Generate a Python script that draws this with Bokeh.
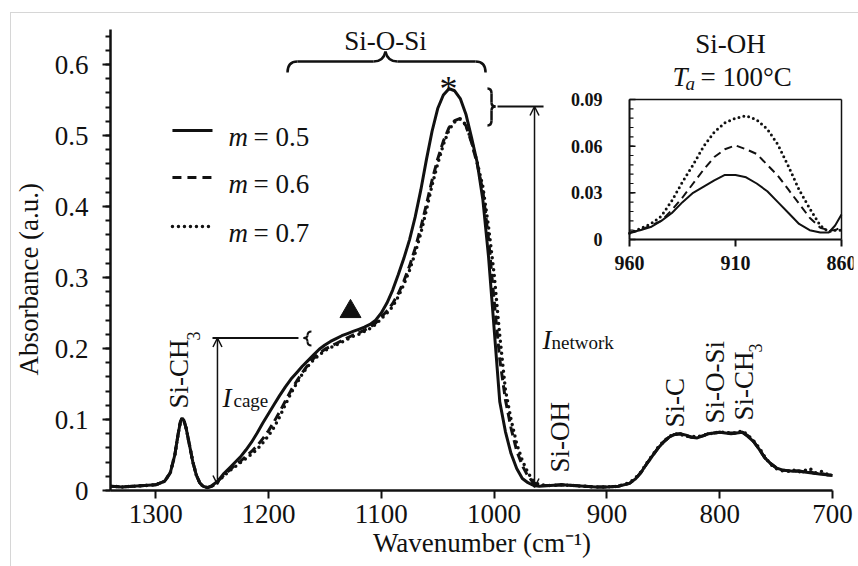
import math
from bokeh.plotting import figure
from bokeh.models import Range1d, FixedTicker, NumeralTickFormatter, Arrow, OpenHead
from bokeh.embed import file_html
from bokeh.resources import INLINE
from bokeh.core.properties import value

# ---------------- data ----------------
wavenumber = [1340, 1330, 1320, 1310, 1300, 1292, 1287, 1283, 1280, 1278,
              1276.5, 1275, 1273, 1270, 1267, 1264, 1261, 1258, 1254,
              1250, 1245, 1240, 1235, 1230, 1225, 1220, 1215, 1210, 1205,
              1200, 1195, 1190, 1185, 1180, 1175, 1170, 1165, 1160, 1155,
              1150, 1145, 1140, 1135, 1130, 1125, 1120, 1115, 1110, 1105,
              1100, 1095, 1090, 1085, 1080, 1075, 1070, 1065, 1060, 1055,
              1050, 1045, 1040, 1035, 1030, 1025, 1020, 1015, 1010, 1005,
              1000, 995, 990, 985, 980, 975, 970, 965, 960,
              950, 940, 930, 920, 910, 900, 890, 880, 875, 870,
              865, 860, 855, 850, 845, 840, 835, 830, 825, 820,
              815, 810, 805, 800, 795, 790, 785, 780, 775, 770,
              765, 760, 755, 750, 745, 740, 735, 730, 725, 720,
              715, 710, 705, 700]

abs_m05 = [0.006, 0.005, 0.006, 0.007, 0.008, 0.013, 0.025, 0.050, 0.080, 0.097,
           0.102, 0.099, 0.088, 0.064, 0.040, 0.022, 0.011, 0.006, 0.004,
           0.007, 0.013, 0.023, 0.031, 0.039, 0.047, 0.057, 0.068, 0.081, 0.095,
           0.108, 0.121, 0.134, 0.146, 0.157, 0.166, 0.175, 0.183, 0.191, 0.199,
           0.205, 0.210, 0.214, 0.218, 0.221, 0.224, 0.227, 0.230, 0.234, 0.240,
           0.250, 0.264, 0.282, 0.304, 0.327, 0.353, 0.385, 0.423, 0.466, 0.506,
           0.538, 0.557, 0.566, 0.563, 0.552, 0.530, 0.497, 0.462, 0.410, 0.330,
           0.228, 0.125, 0.083, 0.052, 0.031, 0.017, 0.011, 0.007, 0.006,
           0.007, 0.008, 0.007, 0.006, 0.005, 0.005, 0.006, 0.010, 0.016, 0.025,
           0.037, 0.048, 0.059, 0.068, 0.075, 0.079, 0.080, 0.078, 0.075, 0.074,
           0.077, 0.080, 0.081, 0.082, 0.081, 0.080, 0.081, 0.082, 0.076, 0.069,
           0.058, 0.046, 0.038, 0.032, 0.029, 0.028, 0.027, 0.027, 0.026, 0.025,
           0.024, 0.023, 0.022, 0.021]

abs_m06 = [0.006, 0.005, 0.006, 0.007, 0.008, 0.013, 0.025, 0.050, 0.080, 0.097,
           0.102, 0.099, 0.088, 0.064, 0.040, 0.022, 0.011, 0.006, 0.004,
           0.006, 0.013, 0.021, 0.028, 0.035, 0.041, 0.048, 0.055, 0.063, 0.073,
           0.084, 0.097, 0.111, 0.126, 0.141, 0.154, 0.166, 0.177, 0.186, 0.193,
           0.199, 0.203, 0.207, 0.211, 0.215, 0.219, 0.222, 0.226, 0.230, 0.236,
           0.244, 0.253, 0.263, 0.277, 0.295, 0.316, 0.341, 0.370, 0.403, 0.437,
           0.467, 0.492, 0.511, 0.521, 0.524, 0.514, 0.490, 0.460, 0.422, 0.355,
           0.268, 0.185, 0.128, 0.088, 0.056, 0.035, 0.020, 0.011, 0.007,
           0.007, 0.008, 0.007, 0.006, 0.005, 0.005, 0.006, 0.010, 0.016, 0.025,
           0.037, 0.048, 0.059, 0.068, 0.075, 0.079, 0.080, 0.077, 0.075, 0.075,
           0.077, 0.080, 0.081, 0.082, 0.081, 0.081, 0.081, 0.082, 0.077, 0.069,
           0.058, 0.046, 0.038, 0.032, 0.029, 0.028, 0.027, 0.028, 0.026, 0.026,
           0.024, 0.024, 0.022, 0.022]

abs_m07 = [0.006, 0.005, 0.006, 0.007, 0.008, 0.013, 0.025, 0.050, 0.080, 0.097,
           0.102, 0.099, 0.088, 0.064, 0.040, 0.022, 0.011, 0.006, 0.004,
           0.006, 0.012, 0.020, 0.027, 0.033, 0.039, 0.045, 0.051, 0.058, 0.067,
           0.077, 0.089, 0.104, 0.121, 0.137, 0.151, 0.164, 0.175, 0.184, 0.191,
           0.197, 0.201, 0.205, 0.209, 0.213, 0.217, 0.220, 0.224, 0.228, 0.234,
           0.242, 0.250, 0.259, 0.273, 0.290, 0.310, 0.334, 0.362, 0.395, 0.430,
           0.460, 0.487, 0.508, 0.519, 0.523, 0.515, 0.492, 0.462, 0.428, 0.372,
           0.305, 0.218, 0.142, 0.100, 0.066, 0.042, 0.025, 0.013, 0.008,
           0.007, 0.008, 0.007, 0.006, 0.005, 0.005, 0.006, 0.011, 0.017, 0.026,
           0.038, 0.049, 0.060, 0.069, 0.076, 0.080, 0.079, 0.076, 0.077, 0.075,
           0.078, 0.079, 0.082, 0.081, 0.083, 0.080, 0.082, 0.084, 0.078, 0.070,
           0.060, 0.047, 0.037, 0.031, 0.028, 0.027, 0.029, 0.026, 0.028, 0.031,
           0.025, 0.027, 0.023, 0.025]

inset_wavenumber = [960, 955, 950, 945, 940, 935, 930, 925, 920, 915, 910,
                    905, 900, 895, 890, 885, 880, 875, 870, 866, 863, 860]
inset_m05 = [0.0045, 0.006, 0.008, 0.012, 0.017, 0.024, 0.030, 0.034, 0.038, 0.0415, 0.0415,
             0.040, 0.036, 0.031, 0.024, 0.017, 0.010, 0.006, 0.0045, 0.0045, 0.009, 0.016]
inset_m06 = [0.004, 0.006, 0.009, 0.012, 0.019, 0.027, 0.036, 0.045, 0.053, 0.058, 0.0605,
             0.058, 0.055, 0.048, 0.041, 0.032, 0.023, 0.014, 0.0075, 0.006, 0.006, 0.008]
inset_m07 = [0.004, 0.007, 0.010, 0.015, 0.025, 0.037, 0.048, 0.060, 0.069, 0.075, 0.078,
             0.0795, 0.077, 0.071, 0.061, 0.047, 0.032, 0.020, 0.009, 0.005, 0.006, 0.006]

x_ticks = [1300, 1200, 1100, 1000, 900, 800, 700]
y_ticks = [0, 0.1, 0.2, 0.3, 0.4, 0.5, 0.6]
inset_x_ticks = [960, 910, 860]
inset_y_ticks = [0, 0.03, 0.06, 0.09]
series_labels = ["= 0.5", "= 0.6", "= 0.7"]

assert len(wavenumber) == len(abs_m05) == len(abs_m06) == len(abs_m07)

# ---------------- figure ----------------
INK = "#111111"
SERIF = "'Liberation Serif', 'Times New Roman', serif"
W, H = 858, 566
ML, MR, MT, MB = 110, 5, 0, 76
PX_PER_WN = 1.1283      # main plot: pixels per cm-1
PX_PER_ABS = 710.0      # main plot: pixels per absorbance unit
fw, fh = W - ML - MR, H - MT - MB

p = figure(width=W, height=H, output_backend="svg", toolbar_location=None,
           x_range=Range1d(1340, 1340 - fw / PX_PER_WN),
           y_range=Range1d(0, fh / PX_PER_ABS),
           min_border_left=ML, min_border_right=MR,
           min_border_top=MT, min_border_bottom=MB)
p.outline_line_color = None
p.grid.visible = False
# transparent canvas over a white page that carries the thin grey picture border
p.background_fill_color = None
p.border_fill_color = None
p.styles = {"background": "linear-gradient(#d6d6d6, #d6d6d6) 10px 12px / 848px 1px no-repeat, "
                          "linear-gradient(#d6d6d6, #d6d6d6) 10px 12px / 1px 554px no-repeat, "
                          "#ffffff"}

# inset coordinate system (960..860 cm-1, 0..0.09) placed inside the frame
IN_X0_PX, IN_PX_PER_WN = 629 - ML, 2.12
IN_Y0_PX, IN_PX_PER_ABS = 239 - MT, 140 / 0.09
p.extra_x_ranges = {"ix": Range1d(960 + IN_X0_PX / IN_PX_PER_WN,
                                  960 - (fw - IN_X0_PX) / IN_PX_PER_WN)}
p.extra_y_ranges = {"iy": Range1d(-(fh - IN_Y0_PX) / IN_PX_PER_ABS,
                                  IN_Y0_PX / IN_PX_PER_ABS)}

# axes
for ax in (p.xaxis[0], p.yaxis[0]):
    ax.axis_line_color = INK
    ax.axis_line_width = 2.5
    ax.major_tick_line_color = INK
    ax.major_tick_line_width = 2
    ax.minor_tick_line_color = INK
    ax.minor_tick_line_width = 2
    ax.major_tick_in = 0
    ax.minor_tick_in = 0
    ax.major_tick_out = 8
    ax.minor_tick_out = 5
    ax.major_label_text_font = SERIF
    ax.major_label_text_font_size = "27px"
    ax.major_label_text_color = INK
    ax.axis_label_text_font = SERIF
    ax.axis_label_text_font_size = "27px"
    ax.axis_label_text_font_style = "normal"
    ax.axis_label_text_color = INK

p.xaxis.ticker = FixedTicker(ticks=x_ticks, minor_ticks=[])
p.xaxis.formatter = NumeralTickFormatter(format="0")
p.xaxis.bounds = (700, 1340)
p.xaxis.axis_label = "Wavenumber (cm\u207b\u00b9)"
p.xaxis.major_label_standoff = 6
p.xaxis.axis_label_standoff = 2

p.yaxis.ticker = FixedTicker(ticks=y_ticks, minor_ticks=[round(i * 0.02, 2) for i in range(33)])
p.yaxis.formatter = NumeralTickFormatter(format="0.[0]")
p.yaxis.bounds = (0, 0.65)
# trailing no-break spaces shift the centred title down to where the reference has it
p.yaxis.axis_label = "Absorbance (a.u.)" + "\u00a0" * 10
p.yaxis.major_label_standoff = 14
p.yaxis.axis_label_standoff = 8

# main spectra
p.line(wavenumber, abs_m07, line_color=INK, line_width=3.5, line_dash="0 6", line_cap="round")
p.line(wavenumber, abs_m06, line_color=INK, line_width=3, line_dash="9 5")
p.line(wavenumber, abs_m05, line_color=INK, line_width=3)


def txt(x, y, s, size="27px", style="normal", align="left", baseline="alphabetic",
        angle=0.0, inset=False):
    kw = dict(x_range_name="ix", y_range_name="iy") if inset else {}
    p.text(x=[x], y=[y], text=[s], text_font=value(SERIF), text_font_size=size,
           text_font_style=style, text_align=align, text_baseline=baseline,
           angle=angle, text_color=INK, **kw)


# legend
leg_y_line = [0.5071, 0.4409, 0.3718]
leg_y_text = [0.4972, 0.4310, 0.3620]
for (dash, lw, cap), yl, yt, lab in zip([(None, 3, "butt"), ("9 6", 3, "butt"), ("0 6", 3.5, "round")],
                                        leg_y_line, leg_y_text, series_labels):
    kw = {"line_dash": dash} if dash else {}
    p.segment(x0=[1285.1], y0=[yl], x1=[1249.6], y1=[yl], line_color=INK,
              line_width=lw, line_cap=cap, **kw)
    txt(1235.5, yt, "m", style="italic")
    txt(1213.3, yt, lab)

# Si-O-Si brace (top)
BR = dict(line_color=INK, line_width=2.5)
p.quadratic(x0=[1183.1], y0=[0.5888], x1=[1174.3], y1=[0.6042], cx=[1183.1], cy=[0.6042], **BR)
p.segment(x0=[1174.3], y0=[0.6042], x1=[1106.9], y1=[0.6042], **BR)
p.quadratic(x0=[1106.9], y0=[0.6042], x1=[1096.3], y1=[0.6183], cx=[1098.0], cy=[0.6042], **BR)
p.quadratic(x0=[1096.3], y0=[0.6183], x1=[1085.6], y1=[0.6042], cx=[1094.5], cy=[0.6042], **BR)
p.segment(x0=[1085.6], y0=[0.6042], x1=[1016.5], y1=[0.6042], **BR)
p.quadratic(x0=[1016.5], y0=[0.6042], x1=[1007.6], y1=[0.5888], cx=[1007.6], cy=[0.6042], **BR)
txt(1096.3, 0.6324, "Si-O-Si", align="center")

# peak asterisk and shoulder triangle
txt(1040.5, 0.566, "*", size="36px", align="center")
p.scatter([1127.3], [0.2521], marker="triangle", size=21, fill_color=INK, line_color=INK)

# small brace at the peak + I_network arrow
p.quadratic(x0=[1005.9], y0=[0.5662], x1=[1002.3], y1=[0.5592], cx=[1002.3], cy=[0.5662], **BR)
p.segment(x0=[1002.3], y0=[0.5592], x1=[1002.3], y1=[0.5465], **BR)
p.quadratic(x0=[1002.3], y0=[0.5465], x1=[998.8], y1=[0.5409], cx=[1002.3], cy=[0.5409], **BR)
p.quadratic(x0=[998.8], y0=[0.5409], x1=[1002.3], y1=[0.5352], cx=[1002.3], cy=[0.5409], **BR)
p.segment(x0=[1002.3], y0=[0.5352], x1=[1002.3], y1=[0.5211], **BR)
p.quadratic(x0=[1002.3], y0=[0.5211], x1=[1005.9], y1=[0.5141], cx=[1002.3], cy=[0.5141], **BR)
p.segment(x0=[997.0], y0=[0.5409], x1=[956.2], y1=[0.5409], line_color=INK, line_width=2)
p.add_layout(Arrow(start=OpenHead(size=9, line_width=1.5, line_color=INK),
                   end=OpenHead(size=9, line_width=1.5, line_color=INK),
                   x_start=964.2, y_start=0.5409, x_end=964.2, y_end=0.0042,
                   line_width=1.5, line_color=INK))
txt(957.2, 0.2113, "I", style="italic")
txt(949.1, 0.2085, "network", size="19px")

# small brace at the shoulder + I_cage arrow
BR2 = dict(line_color=INK, line_width=2)
p.quadratic(x0=[1161.9], y0=[0.2240], x1=[1165.4], y1=[0.2183], cx=[1165.4], cy=[0.2240], **BR2)
p.quadratic(x0=[1165.4], y0=[0.2183], x1=[1168.9], y1=[0.2148], cx=[1165.4], cy=[0.2148], **BR2)
p.quadratic(x0=[1168.9], y0=[0.2148], x1=[1165.4], y1=[0.2099], cx=[1165.4], cy=[0.2148], **BR2)
p.quadratic(x0=[1165.4], y0=[0.2099], x1=[1161.9], y1=[0.2042], cx=[1165.4], cy=[0.2042], **BR2)
p.segment(x0=[1249.6], y0=[0.2148], x1=[1173.4], y1=[0.2148], line_color=INK, line_width=2)
p.add_layout(Arrow(start=OpenHead(size=9, line_width=1.5, line_color=INK),
                   end=OpenHead(size=9, line_width=1.5, line_color=INK),
                   x_start=1245.2, y_start=0.2148, x_end=1245.2, y_end=0.0085,
                   line_width=1.5, line_color=INK))
txt(1240.8, 0.1296, "I", style="italic")
txt(1231.0, 0.1268, "cage", size="19px")

# rotated band labels
UP = math.pi / 2
txt(1279.7, 0.1155, "Si-CH", angle=UP, baseline="middle")
txt(1266.5, 0.2113, "3", size="18px", angle=UP, baseline="middle")
txt(941.2, 0.0254, "Si-OH", angle=UP, baseline="middle")
txt(839.3, 0.0887, "Si-C", angle=UP, baseline="middle")
txt(803.8, 0.0944, "Si-O-Si", angle=UP, baseline="middle")
txt(778.7, 0.0986, "Si-CH", angle=UP, baseline="middle")
txt(768.4, 0.1944, "3", size="18px", angle=UP, baseline="middle")

# inset title
txt(790.6, 0.6282, "Si-OH", align="center")
txt(842.0, 0.5817, "T", style="italic")
txt(830.4, 0.5733, "a", size="19px", style="italic")
txt(817.1, 0.5817, "= 100\u00b0C")

# ---------------- inset ----------------
IK = dict(x_range_name="ix", y_range_name="iy")
p.line(inset_wavenumber, inset_m07, line_color=INK, line_width=3, line_dash="0 5",
       line_cap="round", **IK)
p.line(inset_wavenumber, inset_m06, line_color=INK, line_width=2, line_dash="8 5", **IK)
p.line(inset_wavenumber, inset_m05, line_color=INK, line_width=2, **IK)
# frame
p.segment(x0=[960, 960], y0=[0, 0], x1=[960, 860], y1=[0.09, 0], line_color=INK,
          line_width=2, **IK)
p.segment(x0=[960, 860], y0=[0.09, 0.09], x1=[860, 860], y1=[0.09, 0], line_color=INK,
          line_width=1.5, **IK)
# ticks
minor_y = [round(i * 0.006, 3) for i in range(16)]
p.segment(x0=[960] * len(minor_y), y0=minor_y, x1=[960 - 4 / IN_PX_PER_WN] * len(minor_y),
          y1=minor_y, line_color=INK, line_width=1.2, **IK)
p.segment(x0=[960] * len(inset_y_ticks), y0=inset_y_ticks,
          x1=[960 - 6 / IN_PX_PER_WN] * len(inset_y_ticks), y1=inset_y_ticks,
          line_color=INK, line_width=1.5, **IK)
p.segment(x0=inset_x_ticks, y0=[0] * 3, x1=inset_x_ticks, y1=[-7 / IN_PX_PER_ABS] * 3,
          line_color=INK, line_width=2, **IK)
for t in inset_y_ticks:
    lab = "0" if t == 0 else f"{t:.2f}"
    txt(960 + 12.7, t, lab, size="18px", style="bold", align="right", baseline="middle",
        inset=True)
for t in inset_x_ticks:
    txt(t, -16 / IN_PX_PER_ABS, str(t), size="20px", style="bold", align="center",
        baseline="top", inset=True)

open("out.html", "w").write(file_html(p, INLINE))
